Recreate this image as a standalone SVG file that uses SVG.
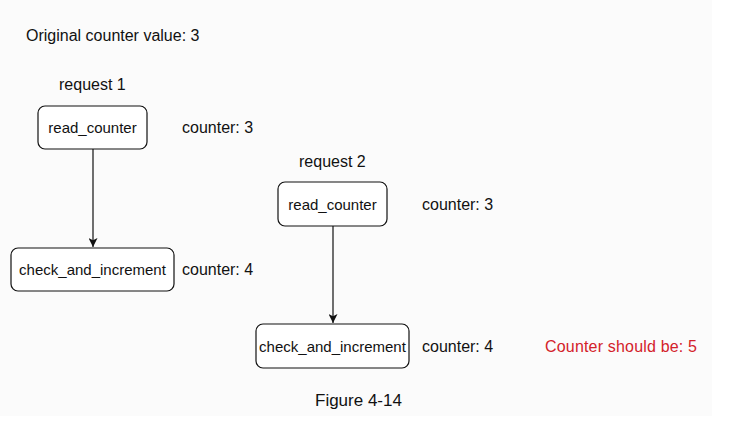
<svg xmlns="http://www.w3.org/2000/svg" width="741" height="423" viewBox="0 0 741 423">
<defs>
<style>
text{font-family:"Liberation Sans",Arial,sans-serif;fill:#111}
.lbl{font-size:16px}
.box rect{fill:#fff;stroke:#111;stroke-width:1.2}
.box text{font-size:15px;text-anchor:middle}
.conn line{stroke:#111;stroke-width:1.2}
.red{fill:#d3222a}
</style>
<marker id="arr" viewBox="0 0 10 10" refX="10" refY="5" markerWidth="9" markerHeight="9" markerUnits="userSpaceOnUse" orient="auto"><path d="M0,0 L10,5 L0,10 L2.5,5 z" fill="#111"/></marker>
</defs>
<rect x="0" y="0" width="741" height="423" fill="#ffffff"/>
<rect x="0" y="0" width="712" height="416" fill="#fbfbfb"/>
<text class="lbl" x="26" y="41">Original counter value: 3</text>
<text class="lbl" x="59" y="90">request 1</text>
<text class="lbl" x="299" y="167">request 2</text>
<g class="conn">
<line x1="93" y1="149" x2="93" y2="247" marker-end="url(#arr)"/>
<line x1="333" y1="226" x2="333" y2="323" marker-end="url(#arr)"/>
</g>
<g id="r1_read" class="box"><rect x="38" y="106" width="109" height="43" rx="7"/><text x="92.5" y="133">read_counter</text></g>
<g id="r1_check" class="box"><rect x="11" y="248" width="163" height="43" rx="7"/><text x="92.5" y="275">check_and_increment</text></g>
<g id="r2_read" class="box"><rect x="278" y="182" width="109" height="44" rx="7"/><text x="332.5" y="210">read_counter</text></g>
<g id="r2_check" class="box"><rect x="256" y="324" width="153" height="44" rx="7"/><text x="332.5" y="352">check_and_increment</text></g>
<text class="lbl" x="182" y="133">counter: 3</text>
<text class="lbl" x="182" y="275">counter: 4</text>
<text class="lbl" x="422" y="210">counter: 3</text>
<text class="lbl" x="422" y="352">counter: 4</text>
<text class="lbl red" x="545" y="352" textLength="152">Counter should be: 5</text>
<text x="315" y="406" style="font-size:17px">Figure 4-14</text>
</svg>
